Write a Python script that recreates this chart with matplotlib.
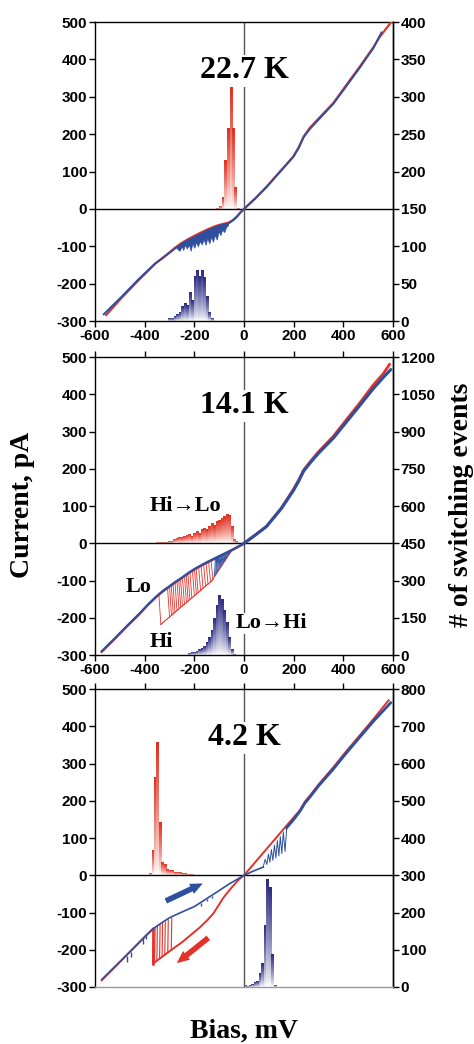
import numpy as np
import matplotlib
matplotlib.use('Agg')
import matplotlib.pyplot as plt
from matplotlib.colors import LinearSegmentedColormap

plt.rcParams['font.family'] = ['Liberation Sans', 'DejaVu Sans']
plt.rcParams['font.weight'] = 'bold'
plt.rcParams['axes.unicode_minus'] = False

RED = '#e2322a'
BLUE = '#2d4f9e'
HRED = '#e0301f'
HBLUE = '#2b2b82'
SERIF = ['Liberation Serif', 'DejaVu Serif']

# ---- axis ticks ----
x_ticks = [-600, -400, -200, 0, 200, 400, 600]
y_ticks = [-300, -200, -100, 0, 100, 200, 300, 400, 500]
r1_ticks = [0, 50, 100, 150, 200, 250, 300, 350, 400]
r2_ticks = [0, 150, 300, 450, 600, 750, 900, 1050, 1200]
r3_ticks = [0, 100, 200, 300, 400, 500, 600, 700, 800]

# ---- 22.7 K ----
p1_red_v = [-555, -493, -426, -358, -330, -305, -280, -251, -225, -197, -170, -144, -115, -90, -63, -45, -30, -15, 0,
            45, 90, 150, 198, 220, 240, 265, 300, 359, 410, 466, 520, 546, 598]
p1_red_i = [-284, -238, -192, -147, -132, -119, -105, -91, -81, -71, -62, -54, -46, -41, -37, -30, -21, -10, 0,
            28, 59, 104, 140, 165, 194, 217, 242, 283, 330, 381, 432, 460, 505]
p1_blue_v = [-565, -493, -426, -358, -330, -305, -280, -251, -225, -197, -170, -144, -115, -90, -63, -45, -30, -15, 0,
             45, 90, 150, 198, 220, 240, 265, 300, 359, 410, 466, 520, 553]
p1_blue_i = [-282, -235, -189, -146, -133, -120, -107, -94, -84, -75, -66, -57, -49, -43, -39, -31, -22, -10, 0,
             28, 58, 103, 139, 163, 192, 214, 239, 281, 327, 378, 430, 472]
p1_band_v = [-270, -260, -250, -245, -238, -230, -222, -215, -208, -200, -193, -186, -178, -170, -163, -155, -148, -140, -132, -125, -118, -110, -102, -95, -88, -80, -72, -65]
p1_band_top = [-99, -95, -90, -88, -86, -83, -80, -78, -76, -73, -71, -69, -66, -64, -61, -58, -56, -54, -52, -50, -48, -46, -44, -43, -42, -41, -40, -38]
p1_band_lo = [-106, -112, -100, -110, -96, -106, -95, -112, -92, -104, -88, -100, -86, -95, -80, -96, -78, -92, -74, -88, -70, -82, -60, -70, -55, -62, -48, -44]
p1_hi_bins = [-107, -97, -86, -76, -65, -54, -44, -34, -24]
p1_hi_counts = [1, 3, 15, 65, 108, 163, 108, 29, 1]
p1_lo_bins = [-301, -290, -279, -269, -258, -248, -239, -228, -219, -209, -199, -189, -180, -169, -160, -150, -140, -130]
p1_lo_counts = [3, 4, 6, 9, 12, 19, 24, 21, 38, 27, 59, 68, 60, 68, 58, 33, 12, 4]

# ---- 14.1 K ----
p2_lo_v = [-573, -520, -473, -420, -385, -352, -325, -300, -275, -250, -225, -197, -170, -150, -117, -80, -50, -25, 0]
p2_lo_i = [-290, -255, -223, -188, -163, -142, -127, -115, -103, -92, -80, -68, -58, -51, -40, -28, -18, -9, 0]
p2_hi_v = [-335, -300, -250, -200, -160, -130, -100, -70, -50, -25, 0]
p2_hi_i = [-218, -198, -169, -141, -118, -101, -70, -40, -20, -9, 0]
p2_red_pos_v = [0, 45, 90, 150, 198, 220, 240, 265, 300, 359, 410, 466, 520, 560, 585]
p2_red_pos_i = [0, 22, 45, 95, 144, 170, 197, 218, 246, 287, 330, 377, 425, 455, 480]
p2_blue_pos_v = [0, 45, 90, 150, 198, 220, 240, 265, 300, 359, 410, 466, 520, 560, 590]
p2_blue_pos_i = [0, 22, 45, 93, 141, 167, 194, 215, 242, 282, 324, 370, 415, 445, 466]
p2_sw_hi_v = [-335, -300, -292, -285, -278, -270, -262, -255, -248, -240, -232, -225, -218, -210, -200, -192, -185, -175, -165, -155, -145, -135, -125]
p2_sw_hi_i = [-218, -198, -193, -190, -186, -181, -176, -172, -168, -164, -159, -155, -151, -147, -141, -136, -132, -127, -121, -115, -110, -104, -98]
p2_sw_lo_v = [-343, -308, -300, -293, -286, -278, -270, -263, -256, -248, -240, -233, -226, -218, -208, -200, -193, -183, -173, -163, -153, -143, -133]
p2_sw_lo_i = [-136, -119, -116, -112, -109, -105, -102, -98, -95, -91, -87, -84, -81, -77, -72, -68, -66, -62, -59, -55, -52, -49, -45]
p2_bsw_lo_v = [-115, -110, -106, -102, -97, -93, -89, -85, -80, -76, -72, -67, -63, -58, -54, -50]
p2_bsw_lo_i = [-39, -38, -36, -35, -33, -32, -31, -29, -28, -26, -25, -24, -22, -21, -19, -18]
p2_bsw_hi_v = [-119, -114, -110, -106, -101, -97, -93, -89, -84, -80, -76, -71, -67, -62, -58, -54]
p2_bsw_hi_i = [-88, -83, -79, -75, -70, -66, -62, -58, -53, -49, -45, -39, -35, -30, -26, -22]
p2_hi_bins = [-350, -340, -330, -320, -310, -300, -290, -280, -270, -260, -250, -240, -230, -220, -210, -200, -190,
              -180, -170, -160, -150, -140, -130, -120, -110, -100, -90, -80, -70, -60, -50, -40, -30]
p2_hi_counts = [2, 2, 3, 3, 4, 5, 7, 13, 20, 23, 23, 27, 29, 34, 27, 40, 47,
                40, 54, 60, 56, 67, 78, 70, 87, 91, 97, 107, 114, 110, 67, 13, 5]
p2_lo_bins = [-220, -210, -200, -190, -180, -170, -160, -150, -140, -130, -120, -110, -100, -90, -80, -70, -60, -50, -40]
p2_lo_counts = [5, 9, 12, 16, 21, 26, 36, 50, 70, 100, 145, 200, 240, 222, 180, 130, 70, 22, 4]

# ---- 4.2 K ----
p3_lo_v = [-573, -500, -446, -400, -365, -330, -300, -258, -200, -151, -100, -57, -25, 0, 40, 77]
p3_lo_i = [-280, -232, -197, -166, -143, -127, -114, -101, -84, -63, -41, -22, -10, 0, 12, 22]
p3_hi_v = [-366, -300, -250, -178, -150, -124, -100, -85, -70, -50, -30, -15, 0, 45, 91, 145, 190, 225, 245, 265,
           300, 359, 410, 466, 520, 582]
p3_hi_i = [-237, -204, -180, -140, -122, -103, -78, -62, -49, -33, -18, -8, 0, 35, 71, 113, 148, 175, 198, 214,
           244, 290, 332, 376, 419, 470]
p3_red_left_v = [-573, -500, -446, -400, -366]
p3_red_left_i = [-282, -233, -196, -165, -143]
p3_up_v = [172, 200, 225, 245, 265, 300, 359, 410, 466, 520, 590]
p3_up_i = [128, 150, 172, 194, 210, 240, 285, 327, 371, 413, 463]
p3_zz_v = [77, 85, 92, 98, 104, 110, 116, 122, 128, 134, 140, 146, 152, 158, 165, 172]
p3_zz_i = [22, 43, 29, 57, 35, 69, 40, 81, 46, 93, 52, 104, 58, 116, 64, 130]
p3_sw_v = [-366, -358, -349, -338, -328, -317, -305, -291]
p3_sw_top = [-145, -141, -137, -133, -129, -125, -120, -115]
p3_sw_bot = [-237, -233, -228, -224, -219, -214, -208, -201]
p3_spk_v = [-470, -455, -405, -395, -175, -150, -130]
p3_spk_top = [-216, -205, -168, -162, -74, -63, -55]
p3_spk_bot = [-232, -220, -185, -172, -82, -70, -60]
p3_hi_bins = [-378, -368, -358, -348, -338, -328, -318, -308, -298, -288, -278, -268, -258, -248, -238, -228, -218, -208]
p3_hi_counts = [4, 65, 262, 355, 142, 34, 28, 14, 13, 11, 7, 8, 6, 4, 3, 2, 2, 1]
p3_lo_bins = [4, 14, 24, 34, 44, 54, 64, 74, 84, 94, 104, 114, 124]
p3_lo_counts = [3, 2, 3, 8, 12, 16, 35, 64, 166, 288, 268, 88, 3]


def grad_bars(ax, centers, counts, base, color, width=9.0):
    cmap = LinearSegmentedColormap.from_list('g', ['white', color])
    grad = np.linspace(0, 1, 64).reshape(-1, 1) ** 0.8
    for c, n in zip(centers, counts):
        ax.imshow(grad, extent=(c - width / 2, c + width / 2, base, base + n), origin='lower',
                  cmap=cmap, vmin=0, vmax=1, aspect='auto', interpolation='bilinear', zorder=2)


def setup(rect, rmax, rticks, xlabels, top_ticks, bottom_ticks, bottom_color='k'):
    ax = fig.add_axes(rect)
    ax2 = ax.twinx()
    ax.set_zorder(ax2.get_zorder() + 1)
    ax.patch.set_visible(False)
    ax.set_xlim(-600, 600)
    ax.set_ylim(-300, 500)
    ax2.set_ylim(0, rmax)
    ax.set_xticks(x_ticks)
    ax.set_xticklabels([str(t) for t in x_ticks])
    ax.set_yticks(y_ticks)
    ax.set_yticklabels([str(t) for t in y_ticks])
    ax2.set_yticks(rticks)
    ax2.set_yticklabels([str(t) for t in rticks])
    ax.tick_params(axis='y', direction='out', length=4, width=1, pad=1.5, labelsize=11)
    ax2.tick_params(axis='y', direction='out', length=4, width=1, pad=1.5, labelsize=11)
    ax.tick_params(axis='x', direction='out', length=4, width=1, pad=1.5, labelsize=11,
                   top=top_ticks, bottom=bottom_ticks, labelbottom=xlabels)
    for sp in ax.spines.values():
        sp.set_linewidth(1.0)
    for s in ['left', 'top', 'bottom']:
        ax2.spines[s].set_visible(False)
    ax2.spines['right'].set_linewidth(1.0)
    ax.spines['bottom'].set_color(bottom_color)
    ax.axhline(0, color='k', lw=1.0, zorder=1)
    ax.axvline(0, color='#555555', lw=1.0, zorder=1)
    return ax, ax2


def temp_label(ax, txt):
    ax.text(0, 349, txt, ha='center', va='baseline', fontsize=23, family=SERIF, weight='bold',
            bbox=dict(fc='white', ec='none', pad=1), zorder=5)


fig = plt.figure(figsize=(4.74, 10.44), dpi=100)

# panel 1
ax, ax2 = setup([0.2004, 0.6925, 0.629, 0.2864], 400, r1_ticks, True, False, True)
grad_bars(ax2, p1_hi_bins, p1_hi_counts, 150, HRED)
grad_bars(ax2, p1_lo_bins, p1_lo_counts, 0, HBLUE)
ax2.set_xlim(-600, 600)
ax2.set_ylim(0, 400)
ax.plot(p1_red_v, p1_red_i, color=RED, lw=1.6, zorder=3)
ax.fill_between(p1_band_v, [t + 3 for t in p1_band_top], p1_band_top, color=RED, lw=0, zorder=3)
ax.fill_between(p1_band_v, p1_band_top, p1_band_lo, color=BLUE, lw=0.5, zorder=4)
ax.plot(p1_blue_v, p1_blue_i, color=BLUE, lw=1.4, zorder=4)
temp_label(ax, '22.7 K')

# panel 2
ax, ax2 = setup([0.2004, 0.3726, 0.629, 0.2854], 1200, r2_ticks, True, True, True)
grad_bars(ax2, p2_hi_bins, p2_hi_counts, 450, HRED)
grad_bars(ax2, p2_lo_bins, p2_lo_counts, 0, HBLUE)
ax2.set_xlim(-600, 600)
ax2.set_ylim(0, 1200)
ax.plot(p2_lo_v, [i - 2 for i in p2_lo_i], color=RED, lw=1.4, zorder=3)
ax.plot(p2_hi_v, p2_hi_i, color=RED, lw=0.8, zorder=3)
for v1, i1, v2, i2 in zip(p2_sw_hi_v, p2_sw_hi_i, p2_sw_lo_v, p2_sw_lo_i):
    ax.plot([v1, v2], [i1, i2], color=RED, lw=0.6, zorder=3)
for v1, i1, v2, i2 in zip(p2_bsw_hi_v, p2_bsw_hi_i, p2_bsw_lo_v, p2_bsw_lo_i):
    ax.plot([v1, v2], [i1, i2], color=BLUE, lw=0.7, zorder=4)
ax.plot(p2_red_pos_v, p2_red_pos_i, color=RED, lw=2.0, zorder=3)
ax.plot(p2_blue_pos_v, p2_blue_pos_i, color=BLUE, lw=2.2, zorder=4)
ax.plot(p2_lo_v, p2_lo_i, color=BLUE, lw=1.6, zorder=4)
temp_label(ax, '14.1 K')
for txt, x, y in [('Hi\u2192Lo', -238, 86), ('Lo', -424, -132), ('Hi', -333, -279), ('Lo\u2192Hi', 112, -228)]:
    ax.text(x, y, txt, ha='center', va='baseline', fontsize=16, family=SERIF, weight='bold',
            bbox=dict(fc='white', ec='none', pad=0.5) if txt == 'Lo\u2192Hi' else None, zorder=5)

# panel 3
ax, ax2 = setup([0.2004, 0.0546, 0.629, 0.2854], 800, r3_ticks, False, True, False, bottom_color='#9a9a9a')
grad_bars(ax2, p3_hi_bins, p3_hi_counts, 300, HRED)
grad_bars(ax2, p3_lo_bins, p3_lo_counts, 0, HBLUE)
ax2.set_xlim(-600, 600)
ax2.set_ylim(0, 800)
ax.plot(p3_red_left_v, p3_red_left_i, color=RED, lw=1.4, zorder=3)
ax.plot(p3_hi_v, p3_hi_i, color=RED, lw=1.4, zorder=3)
for v, t, b in zip(p3_sw_v, p3_sw_top, p3_sw_bot):
    ax.plot([v, v - 2], [t, b], color=RED, lw=0.8, zorder=3)
ax.plot([p3_sw_v[0], p3_sw_v[0]], [p3_sw_top[0], p3_sw_bot[0]], color=RED, lw=1.8, zorder=3)
ax.plot(p3_lo_v, p3_lo_i, color=BLUE, lw=1.2, zorder=4)
ax.vlines(p3_spk_v, p3_spk_bot, p3_spk_top, color=BLUE, lw=1.0, zorder=4)
ax.plot(p3_zz_v, p3_zz_i, color=BLUE, lw=0.7, zorder=4)
ax.plot(p3_up_v, p3_up_i, color=BLUE, lw=2.0, zorder=4)
arrow_style = 'simple,head_length=0.9,head_width=0.8,tail_width=0.4'
ax.annotate('', xy=(-166, -22), xytext=(-315, -69), zorder=5,
            arrowprops=dict(arrowstyle=arrow_style, color=BLUE, lw=0, shrinkA=0, shrinkB=0))
ax.annotate('', xy=(-271, -236), xytext=(-144, -168), zorder=5,
            arrowprops=dict(arrowstyle=arrow_style, color=RED, lw=0, shrinkA=0, shrinkB=0))
temp_label(ax, '4.2 K')

fig.text(0.0485, 0.516, 'Current, pA', rotation=90, ha='center', va='center', fontsize=20, family=SERIF, weight='bold')
fig.text(0.974, 0.516, '# of switching events', rotation=90, ha='center', va='center', fontsize=20, family=SERIF, weight='bold')
fig.text(0.514, 0.0125, 'Bias, mV', ha='center', va='center', fontsize=20, family=SERIF, weight='bold')

fig.savefig('out.png', dpi=100, facecolor='white')
